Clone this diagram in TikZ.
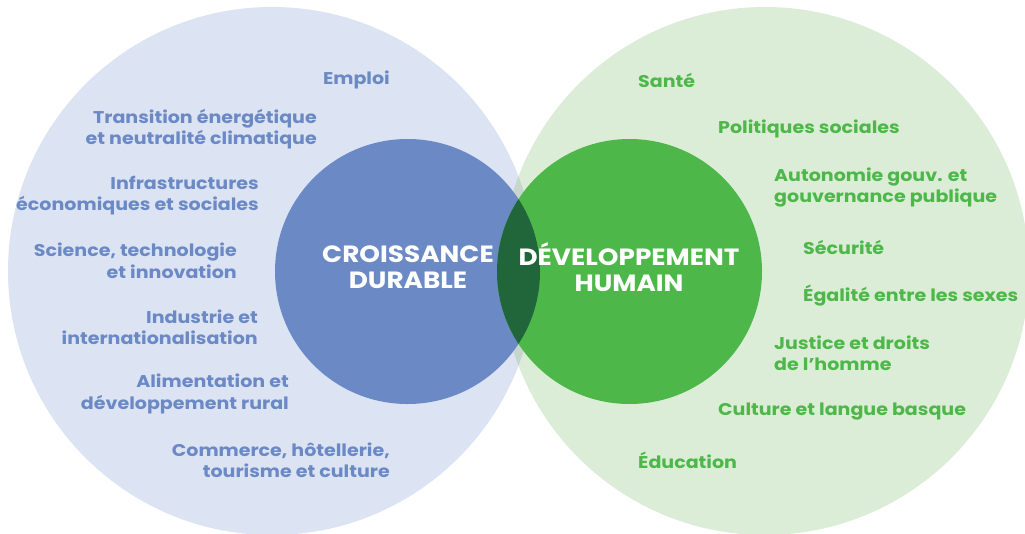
\documentclass[tikz,border=0pt]{standalone}
\usepackage{fontspec}
\setmainfont{Poppins}[FakeStretch=1.12]
\definecolor{bigblue}{HTML}{DCE3F2}
\definecolor{biggreen}{HTML}{DCEDD7}
\definecolor{bigmix}{HTML}{C6D6CD}
\definecolor{innblue}{HTML}{6B89C5}
\definecolor{inngreen}{HTML}{4DB849}
\definecolor{innmix}{HTML}{21663A}
\tikzset{
  lbl/.style={font=\fontsize{17}{21.5}\selectfont\bfseries, inner sep=0pt, align=right, anchor=east, text=innblue},
  rbl/.style={font=\fontsize{17}{21.5}\selectfont\bfseries, inner sep=0pt, align=left, anchor=west, text=inngreen},
  title/.style={font=\fontsize{23.5}{26}\selectfont\bfseries, inner sep=0pt, align=center, text=white}
}
\begin{document}
\begin{tikzpicture}[x=1pt,y=-1pt]
\useasboundingbox (0,0) rectangle (1025,533);
\clip (0,0) rectangle (1025,533);
% big circles
\fill[bigblue] (272,271) circle (264);
\fill[biggreen] (765,271) circle (264);
\begin{scope}
  \clip (272,271) circle (264);
  \fill[bigmix] (765,271) circle (264);
\end{scope}
% inner circles
\fill[innblue] (407.5,271.5) circle (132.5);
\fill[inngreen] (629.5,271.5) circle (132.5);
\begin{scope}
  \clip (407.5,271.5) circle (132.5);
  \fill[innmix] (629.5,271.5) circle (132.5);
\end{scope}
% titles
\node[title] (cd) at (408,267) {CROISSANCE\\DURABLE};
\node[title] (dh) at (629,267) {DÉVELOPPEMENT\\HUMAIN};
% left labels
\node[lbl] (l1) at (390,80) {Emploi};
\node[lbl] (l2) at (317,129) {Transition énergétique\\et neutralité climatique};
\node[lbl] (l3) at (259,195.5) {Infrastructures\\économiques et sociales};
\node[lbl] (l4) at (237,261) {Science, technologie\\et innovation};
\node[lbl] (l5) at (258,327.5) {Industrie et\\internationalisation};
\node[lbl] (l6) at (289,394) {Alimentation et\\développement rural};
\node[lbl] (l7) at (390,460.5) {Commerce, hôtellerie,\\tourisme et culture};
% right labels
\node[rbl] (r1) at (638,80) {Santé};
\node[rbl] (r2) at (718,129) {Politiques sociales};
\node[rbl] (r3) at (774,187.5) {Autonomie gouv. et\\gouvernance publique};
\node[rbl] (r4) at (803,247) {Sécurité};
\node[rbl] (r5) at (803,296) {Égalité entre les sexes};
\node[rbl] (r6) at (774,353.5) {Justice et droits\\de l'homme};
\node[rbl] (r7) at (718,412) {Culture et langue basque};
\node[rbl] (r8) at (638,460) {Éducation};
\end{tikzpicture}
\end{document}
